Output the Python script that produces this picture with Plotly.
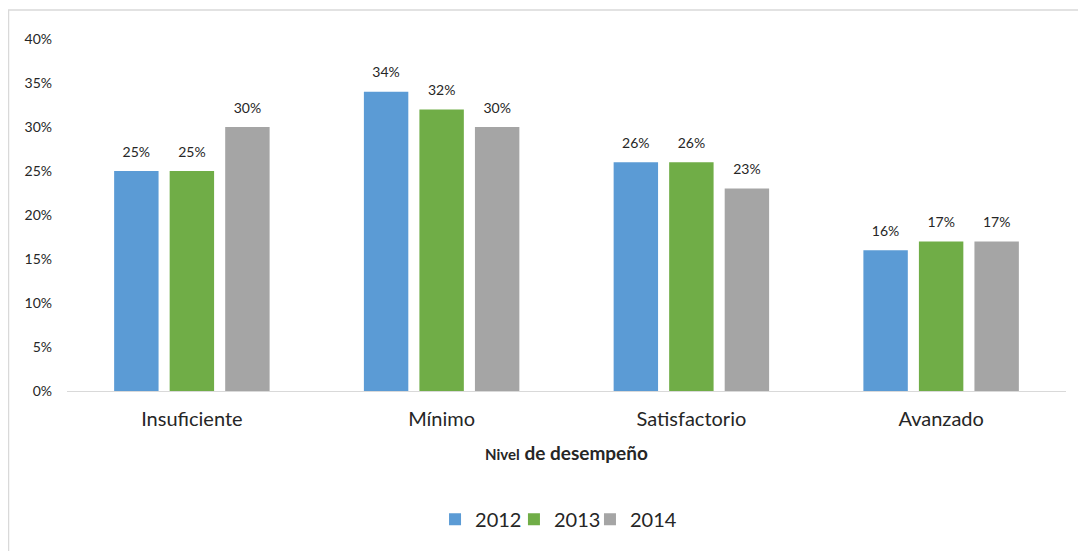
import plotly.graph_objects as go

# Data
categories = ['Insuficiente', 'Mínimo', 'Satisfactorio', 'Avanzado']
years = ['2012', '2013', '2014']
values_2012 = [0.25, 0.34, 0.26, 0.16]
values_2013 = [0.25, 0.32, 0.26, 0.17]
values_2014 = [0.30, 0.30, 0.23, 0.17]
colors = ['#5B9BD5', '#70AD47', '#A5A5A5']

font_family = 'Lato'

# one small legend per year so the entries can sit as close as in the original
legend_ids = ['legend', 'legend2', 'legend3']
legend_x = [0.3684, 0.4474, 0.5235]

fig = go.Figure()
for name, vals, col, lg in zip(years, [values_2012, values_2013, values_2014], colors, legend_ids):
    fig.add_trace(go.Bar(
        name=name, x=categories, y=vals,
        marker=dict(color=col, line=dict(width=0)),
        legend=lg,
    ))

# value labels: grouped text traces so they can sit a little higher than bar text
for name, vals in zip(years, [values_2012, values_2013, values_2014]):
    fig.add_trace(go.Scatter(
        x=categories, y=vals, mode='markers+text',
        text=[f'{v:.0%}' for v in vals], textposition='top center',
        textfont=dict(size=14, color='#262626'),
        marker=dict(size=16, opacity=0),
        showlegend=False, hoverinfo='skip', cliponaxis=False,
    ))

legend_style = dict(orientation='h', xanchor='left', y=-0.364, yanchor='middle',
                    font=dict(size=20), bgcolor='rgba(0,0,0,0)')

# the page body adds an 8px margin, so the figure is 8px smaller than the window
fig.update_layout(
    width=1078, height=543,
    margin=dict(l=59, r=20, t=31, b=160),
    paper_bgcolor='white', plot_bgcolor='white',
    font=dict(family=font_family, color='#262626'),
    barmode='group', bargap=0.333, bargroupgap=0.2,
    scattermode='group', scattergap=0.333,
    showlegend=True,
    legend=dict(x=legend_x[0], **legend_style),
    legend2=dict(x=legend_x[1], **legend_style),
    legend3=dict(x=legend_x[2], **legend_style),
    xaxis=dict(
        automargin=False,
        showline=True, linecolor='#D9D9D9', linewidth=1,
        ticks='', tickfont=dict(size=20), ticklabelstandoff=10,
        title=dict(text="<b><span style='font-size:15px'>Nivel</span> de desempeño</b>",
                   font=dict(size=19), standoff=17),
    ),
    yaxis=dict(
        automargin=False,
        range=[0, 0.40], dtick=0.05, tickformat='.0%',
        showgrid=False, zeroline=False, showline=False,
        tickfont=dict(size=14), ticklabelstandoff=14,
    ),
    shapes=[dict(type='rect', xref='paper', yref='paper',
                 x0=-58.5/999, x1=1.03, y0=-0.5, y1=381/352,
                 line=dict(color='#D9D9D9', width=1.5), layer='below')],
)

fig.write_html('out.html')
